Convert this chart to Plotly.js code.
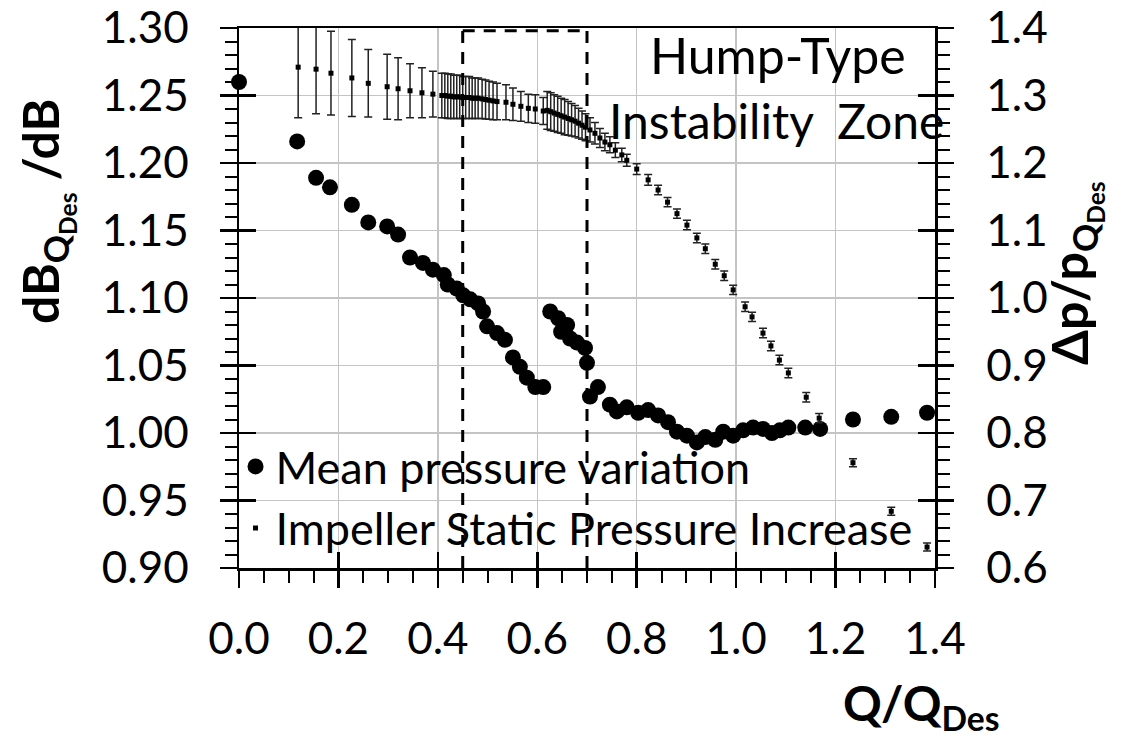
<!DOCTYPE html>
<html>
<head>
<meta charset="utf-8">
<script src="https://cdn.plot.ly/plotly-3.0.1.min.js"></script>
<style>html,body{margin:0;padding:0;background:#fff;}#chart{width:1141px;height:738px;}</style>
</head>
<body>
<div id="chart"></div>
<script>
// Mean pressure variation (left axis): Q/Q_Des and dB_QDes/dB
const qMean = [0.000, 0.117, 0.155, 0.183, 0.227, 0.260, 0.298, 0.320, 0.344, 0.370,
  0.390, 0.412, 0.420, 0.438, 0.451, 0.465, 0.481, 0.491, 0.499, 0.519,
  0.535, 0.551, 0.565, 0.579, 0.596, 0.612, 0.626, 0.642, 0.648, 0.660,
  0.666, 0.680, 0.696, 0.700, 0.706, 0.722, 0.746, 0.760, 0.780, 0.803,
  0.823, 0.843, 0.863, 0.881, 0.901, 0.921, 0.938, 0.958, 0.974, 0.994,
  1.014, 1.034, 1.054, 1.072, 1.088, 1.105, 1.139, 1.169, 1.235, 1.312, 1.384];
const dbRatio = [1.260, 1.216, 1.189, 1.182, 1.169, 1.156, 1.153, 1.147, 1.130, 1.126,
  1.121, 1.117, 1.110, 1.107, 1.102, 1.099, 1.096, 1.090, 1.079, 1.074,
  1.069, 1.056, 1.049, 1.041, 1.034, 1.034, 1.090, 1.085, 1.075, 1.080,
  1.070, 1.067, 1.063, 1.052, 1.027, 1.034, 1.021, 1.016, 1.019, 1.015,
  1.017, 1.013, 1.008, 1.001, 0.998, 0.993, 0.997, 0.995, 1.001, 0.998,
  1.002, 1.004, 1.003, 1.000, 1.002, 1.004, 1.004, 1.003, 1.010, 1.012, 1.015];

// Impeller static pressure increase (right axis): Q/Q_Des, dp/p_QDes and error
const qStatic = [0.119, 0.155, 0.185, 0.227, 0.260, 0.298, 0.320, 0.344, 0.368, 0.390,
  0.408, 0.414, 0.420, 0.426, 0.432, 0.438, 0.444, 0.450, 0.456, 0.463, 0.469, 0.475, 0.481,
  0.489, 0.496, 0.503, 0.511, 0.519, 0.537, 0.551, 0.567, 0.582, 0.596, 0.612,
  0.620, 0.627, 0.634, 0.641, 0.648, 0.655, 0.662, 0.669, 0.676, 0.683, 0.690, 0.697,
  0.706, 0.716, 0.726, 0.736, 0.746, 0.757, 0.770, 0.780, 0.800, 0.823, 0.843, 0.862,
  0.881, 0.901, 0.921, 0.938, 0.958, 0.976, 0.994, 1.018, 1.032, 1.054, 1.070, 1.087,
  1.105, 1.141, 1.167, 1.235, 1.312, 1.384];
const dpRatio = [1.342, 1.339, 1.333, 1.326, 1.318, 1.313, 1.310, 1.307, 1.304, 1.302,
  1.300, 1.300, 1.299, 1.299, 1.298, 1.298, 1.298, 1.297, 1.297, 1.297, 1.296, 1.296, 1.296,
  1.295, 1.294, 1.293, 1.292, 1.291, 1.290, 1.287, 1.284, 1.281, 1.280, 1.277,
  1.278, 1.276, 1.274, 1.272, 1.270, 1.268, 1.266, 1.264, 1.262, 1.259, 1.256, 1.253,
  1.249, 1.244, 1.237, 1.231, 1.227, 1.219, 1.212, 1.204, 1.191, 1.175, 1.160, 1.142,
  1.125, 1.108, 1.089, 1.073, 1.050, 1.033, 1.012, 0.987, 0.972, 0.948, 0.929, 0.908,
  0.889, 0.853, 0.822, 0.756, 0.684, 0.631];
const dpErr = [0.075, 0.066, 0.062, 0.057, 0.050, 0.048, 0.046, 0.040, 0.037, 0.034,
  0.033, 0.033, 0.033, 0.033, 0.032, 0.032, 0.032, 0.031, 0.031, 0.031, 0.030, 0.030, 0.030,
  0.029, 0.029, 0.028, 0.028, 0.027, 0.026, 0.024, 0.022, 0.021, 0.021, 0.020,
  0.028, 0.028, 0.027, 0.027, 0.026, 0.026, 0.025, 0.024, 0.023, 0.022, 0.021, 0.020,
  0.018, 0.016, 0.014, 0.013, 0.012, 0.011, 0.010, 0.009, 0.008, 0.008, 0.007, 0.007,
  0.007, 0.007, 0.007, 0.007, 0.007, 0.007, 0.007, 0.007, 0.007, 0.007, 0.007, 0.007,
  0.007, 0.007, 0.007, 0.006, 0.006, 0.006];

// Instability zone bounds
const zoneStart = 0.45;
const zoneEnd = 0.70;

const FONT = 'Lato, "Open Sans", sans-serif';
const TICK = 44;

const traces = [
  {
    type: 'scatter', mode: 'markers', name: 'Mean pressure variation',
    x: qMean, y: dbRatio, xaxis: 'x', yaxis: 'y', cliponaxis: false,
    marker: {symbol: 'circle', size: 16, color: '#000'}
  },
  {
    type: 'scatter', mode: 'markers', name: 'Impeller Static Pressure Increase',
    x: qStatic, y: dpRatio, xaxis: 'x', yaxis: 'y2',
    marker: {symbol: 'square', size: 5, color: '#000'},
    error_y: {type: 'data', array: dpErr, visible: true, color: '#222', thickness: 1.5, width: 4}
  },
  {type: 'scatter', mode: 'markers', x: [], y: [], xaxis: 'x2', yaxis: 'y3', showlegend: false, hoverinfo: 'skip'},
  {type: 'scatter', mode: 'markers', x: [], y: [], xaxis: 'x2', yaxis: 'y4', showlegend: false, hoverinfo: 'skip'}
];

const tickCommon = {tickcolor: '#000', tickwidth: 2.5, zeroline: false};

const layout = {
  width: 1141, height: 738,
  margin: {l: 239, r: 206, t: 28, b: 170, pad: 0},
  paper_bgcolor: '#fff', plot_bgcolor: '#fff',
  font: {family: FONT, color: '#000', size: 40},
  showlegend: true,
  legend: {x: -0.005, xanchor: 'left', y: 0.008, yanchor: 'bottom', bgcolor: 'rgba(0,0,0,0)',
           font: {family: FONT, size: 45, color: '#000'}, tracegroupgap: 0},
  xaxis: Object.assign({}, tickCommon, {
    range: [0, 1.4], tick0: 0, dtick: 0.2, tickformat: '.1f',
    ticks: 'outside', ticklen: 17, ticklabelstandoff: 14,
    showline: true, linecolor: '#000', linewidth: 2.5, mirror: true,
    showgrid: true, gridcolor: '#c4c4c4', gridwidth: 1.5,
    tickfont: {family: FONT, size: TICK},
    minor: {dtick: 0.05, ticks: 'outside', ticklen: 12, tickwidth: 2, tickcolor: '#000', showgrid: false}
  }),
  yaxis: Object.assign({}, tickCommon, {
    range: [0.9, 1.3], tick0: 0.9, dtick: 0.05, tickformat: '.2f',
    ticks: 'outside', ticklen: 17, ticklabelstandoff: 22,
    showline: true, linecolor: '#000', linewidth: 2.5,
    showgrid: true, gridcolor: '#c4c4c4', gridwidth: 1.5,
    tickfont: {family: FONT, size: TICK},
    minor: {dtick: 0.01, ticks: 'outside', ticklen: 12, tickwidth: 2, tickcolor: '#000', showgrid: false}
  }),
  yaxis2: Object.assign({}, tickCommon, {
    overlaying: 'y', side: 'right', anchor: 'x',
    range: [0.6, 1.4], tick0: 0.6, dtick: 0.1, tickformat: '.1f',
    ticks: 'outside', ticklen: 16, ticklabelstandoff: 24,
    showline: true, linecolor: '#000', linewidth: 2.5, showgrid: false,
    tickfont: {family: FONT, size: TICK},
    minor: {dtick: 0.02, ticks: 'outside', ticklen: 12, tickwidth: 2, tickcolor: '#000', showgrid: false}
  }),
  xaxis2: Object.assign({}, tickCommon, {
    overlaying: 'x', anchor: 'y', side: 'bottom',
    range: [0, 1.4], tick0: 0, dtick: 0.2, ticks: 'inside', ticklen: 16,
    showticklabels: false, showgrid: false, showline: false
  }),
  yaxis3: Object.assign({}, tickCommon, {
    overlaying: 'y', anchor: 'x', side: 'left',
    range: [0.9, 1.3], tick0: 0.9, dtick: 0.05, ticks: 'inside', ticklen: 17,
    showticklabels: false, showgrid: false, showline: false
  }),
  yaxis4: Object.assign({}, tickCommon, {
    overlaying: 'y', anchor: 'x', side: 'right',
    range: [0.6, 1.4], tick0: 0.6, dtick: 0.1, ticks: 'inside', ticklen: 17,
    showticklabels: false, showgrid: false, showline: false
  }),
  shapes: [
    {type: 'line', xref: 'x', yref: 'paper', x0: zoneStart, x1: zoneStart, y0: 0, y1: 1,
     line: {color: '#000', width: 3, dash: '12px,9px'}, layer: 'above'},
    {type: 'line', xref: 'x', yref: 'paper', x0: zoneEnd, x1: zoneEnd, y0: 0, y1: 1,
     line: {color: '#000', width: 3, dash: '12px,9px'}, layer: 'above'},
    {type: 'line', xref: 'x', yref: 'paper', x0: zoneStart, x1: zoneEnd, y0: 0.995, y1: 0.995,
     line: {color: '#000', width: 3, dash: '12px,9px'}, layer: 'above'}
  ],
  annotations: [
    {text: 'Hump-Type', xref: 'paper', yref: 'paper', x: 0.774, y: 0.95, showarrow: false,
     xanchor: 'center', yanchor: 'middle', font: {family: FONT, size: 50, color: '#000'}},
    {text: 'Instability\u00a0 Zone', xref: 'paper', yref: 'paper', x: 0.772, y: 0.828, showarrow: false,
     xanchor: 'center', yanchor: 'middle', font: {family: FONT, size: 48, color: '#000'}},
    {text: '<b>dB<sub>Q<sub>Des</sub></sub> /dB</b>', xref: 'paper', yref: 'paper', x: -0.278, y: 0.66,
     textangle: -90, showarrow: false, xanchor: 'center', yanchor: 'middle',
     font: {family: FONT, size: 50, color: '#000'}},
    {text: '<b>Δp/p<sub>Q<sub>Des</sub></sub></b>', xref: 'paper', yref: 'paper', x: 1.2, y: 0.545,
     textangle: -90, showarrow: false, xanchor: 'center', yanchor: 'middle',
     font: {family: FONT, size: 50, color: '#000'}},
    {text: '<b>Q/Q<sub>Des</sub></b>', xref: 'paper', yref: 'paper', x: 0.98, y: -0.256,
     showarrow: false, xanchor: 'center', yanchor: 'middle',
     font: {family: FONT, size: 48, color: '#000'}}
  ]
};

Plotly.newPlot('chart', traces, layout, {displayModeBar: false, staticPlot: true});
</script>
</body>
</html>
